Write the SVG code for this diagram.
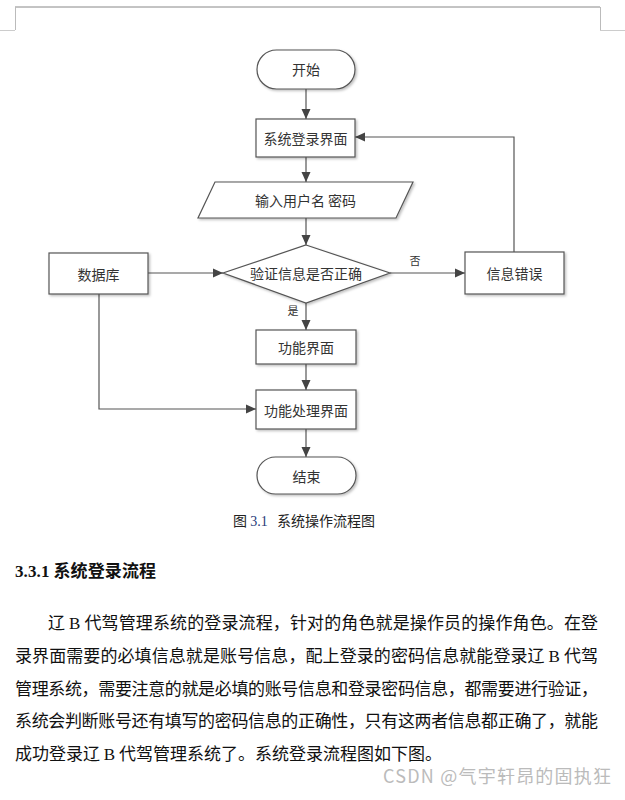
<svg xmlns="http://www.w3.org/2000/svg" width="625" height="800" viewBox="0 0 625 800">
<style>
.box{fill:#fff;stroke:#555;stroke-width:1.2;filter:url(#sh)}
.lbl{font-family:"Noto Sans CJK SC","Liberation Sans",sans-serif;font-size:14px;fill:#333;text-anchor:middle;dominant-baseline:central}
.small{font-family:"Noto Sans CJK SC",sans-serif;font-size:11px;fill:#333;text-anchor:middle}
.con{fill:none;stroke:#555;stroke-width:1.2;marker-end:url(#ah)}
.body{font-family:"Noto Sans CJK SC","Liberation Sans",sans-serif;font-size:17px;fill:#111}
.lat{font-family:"Liberation Serif",serif}
</style>
<defs>
<marker id="ah" viewBox="0 0 10 10" refX="10" refY="5" markerWidth="10" markerHeight="10" markerUnits="userSpaceOnUse" orient="auto">
<path d="M0,0.5 L10,5 L0,9.5 Z" fill="#444"/>
</marker>
<filter id="sh" x="-10%" y="-10%" width="130%" height="140%">
<feDropShadow dx="1.5" dy="1.5" stdDeviation="1" flood-color="#000" flood-opacity="0.25"/>
</filter>
</defs>
<rect width="625" height="800" fill="#fff"/>
<g id="page-corners">
<line x1="15" y1="7" x2="600" y2="7" stroke="#888" stroke-width="1"/>
<line x1="15.5" y1="7" x2="15.5" y2="30" stroke="#bbb" stroke-width="1"/>
<line x1="600.5" y1="7" x2="600.5" y2="30" stroke="#bbb" stroke-width="1"/>
<line x1="0" y1="30.5" x2="15" y2="30.5" stroke="#ccc" stroke-width="1"/>
<line x1="600" y1="30.5" x2="625" y2="30.5" stroke="#ccc" stroke-width="1"/>
</g>
<g id="connectors">
<line class="con" x1="306" y1="89" x2="306" y2="119"/>
<line class="con" x1="306" y1="157" x2="306" y2="182"/>
<line class="con" x1="306" y1="218" x2="306" y2="245"/>
<line class="con" x1="148" y1="273" x2="223" y2="273"/>
<line class="con" x1="390" y1="273" x2="465" y2="273"/>
<polyline class="con" points="514,252 514,137 355,137"/>
<line class="con" x1="306" y1="303" x2="306" y2="330"/>
<line class="con" x1="306" y1="364" x2="306" y2="390"/>
<polyline class="con" points="99,294 99,409 256,409"/>
<line class="con" x1="306" y1="429" x2="306" y2="457"/>
<text class="small" x="415" y="265">否</text>
<text class="small" x="293" y="315">是</text>
</g>
<g id="start">
<rect class="box" x="257" y="50" width="98" height="39" rx="19.5"/>
<text class="lbl" x="306" y="69">开始</text>
</g>
<g id="login-ui">
<rect class="box" x="256" y="119" width="99" height="38"/>
<text class="lbl" x="305.5" y="138">系统登录界面</text>
</g>
<g id="input">
<polygon class="box" points="215,182 413,182 396,218 198,218"/>
<text class="lbl" x="305.5" y="200">输入用户名 密码</text>
</g>
<g id="verify">
<polygon class="box" points="306,245 390,273 306,303 223,273"/>
<text class="lbl" x="306" y="273">验证信息是否正确</text>
</g>
<g id="database">
<rect class="box" x="49" y="253" width="99" height="41"/>
<text class="lbl" x="98.5" y="273.5">数据库</text>
</g>
<g id="error">
<rect class="box" x="465" y="252" width="99" height="42"/>
<text class="lbl" x="514.5" y="273">信息错误</text>
</g>
<g id="func-ui">
<rect class="box" x="256" y="330" width="100" height="34"/>
<text class="lbl" x="306" y="347">功能界面</text>
</g>
<g id="func-process">
<rect class="box" x="256" y="390" width="100" height="39"/>
<text class="lbl" x="306" y="409.5">功能处理界面</text>
</g>
<g id="end">
<rect class="box" x="257" y="457" width="99" height="37" rx="18.5"/>
<text class="lbl" x="306.5" y="475.5">结束</text>
</g>
<text x="233" y="526" font-family="Noto Sans CJK SC,sans-serif" font-size="14" fill="#222">图 <tspan class="lat" fill="#1f3a7a">3.1</tspan><tspan x="277">系统操作流程图</tspan></text>
<text x="15" y="577" font-family="Noto Sans CJK SC,sans-serif" font-size="17" font-weight="bold" fill="#111" textLength="141" lengthAdjust="spacing"><tspan class="lat">3.3.1</tspan> 系统登录流程</text>
<text class="body" x="48" y="629" textLength="550" lengthAdjust="spacing">辽 <tspan class="lat">B</tspan> 代驾管理系统的登录流程，针对的角色就是操作员的操作角色。在登</text>
<text class="body" x="15" y="662" textLength="583" lengthAdjust="spacing">录界面需要的必填信息就是账号信息，配上登录的密码信息就能登录辽 <tspan class="lat">B</tspan> 代驾</text>
<text class="body" x="15" y="695" textLength="583" lengthAdjust="spacing">管理系统，需要注意的就是必填的账号信息和登录密码信息，都需要进行验证，</text>
<text class="body" x="15" y="727" textLength="583" lengthAdjust="spacing">系统会判断账号还有填写的密码信息的正确性，只有这两者信息都正确了，就能</text>
<text class="body" x="15" y="760">成功登录辽 <tspan class="lat">B</tspan> 代驾管理系统了。系统登录流程图如下图。</text>
<text x="383" y="783" font-family="Noto Sans CJK SC,sans-serif" font-size="18" fill="#bbb" textLength="228" lengthAdjust="spacing">CSDN @气宇轩昂的固执狂</text>
</svg>
